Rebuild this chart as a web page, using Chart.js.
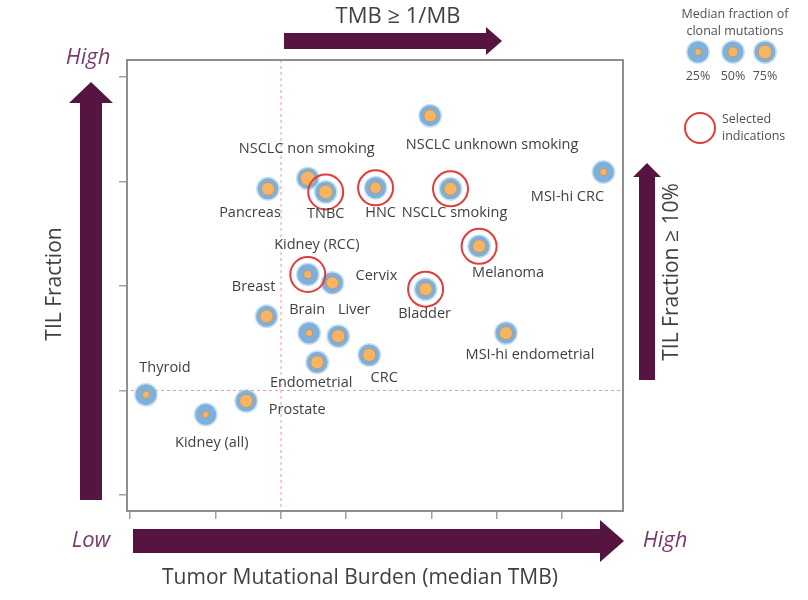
<!DOCTYPE html>
<html>
<head>
<meta charset="utf-8">
<script src="https://cdn.jsdelivr.net/npm/chart.js@4.4.1/dist/chart.umd.min.js"></script>
<style>
  html, body { margin: 0; padding: 0; background: #fff; }
  #wrap { width: 808px; height: 600px; }
</style>
</head>
<body>
<div id="wrap"><canvas id="chart"></canvas></div>
<script>
// indications, median TMB (mut/MB), TIL fraction (%), median clonal fraction
const names = ["NSCLC unknown smoking", "NSCLC non smoking", "TNBC", "Pancreas", "HNC", "NSCLC smoking",
  "MSI-hi CRC", "Melanoma", "Kidney (RCC)", "Cervix", "Bladder", "Breast", "Brain", "Liver",
  "MSI-hi endometrial", "CRC", "Endometrial", "Thyroid", "Kidney (all)", "Prostate"];
const tmb = [4.9, 1.33, 1.61, 0.87, 2.74, 6.09, 31.1, 8.26, 1.33, 1.73, 4.67, 0.857, 1.35, 1.84, 11.0, 2.56, 1.47, 0.237, 0.448, 0.69];
const til = [36.3, 30.3, 29.0, 29.3, 29.4, 29.3, 30.9, 23.8, 21.1, 20.3, 19.7, 17.1, 15.5, 15.2, 15.5, 13.4, 12.7, 9.6, 7.7, 9.0];
const clonal = [0.65, 0.8, 0.75, 0.7, 0.6, 0.7, 0.3, 0.7, 0.35, 0.65, 0.7, 0.7, 0.3, 0.7, 0.7, 0.7, 0.7, 0.3, 0.25, 0.7];
const selected = ["TNBC", "HNC", "NSCLC smoking", "Melanoma", "Kidney (RCC)", "Bladder"];
const xTicks = [0.2, 0.5, 1, 2, 5, 10, 20];
const yTicks = [0, 10, 20, 30, 40];
const legendClonal = [0.25, 0.5, 0.75];
const legendLabels = ["25%", "50%", "75%"];

// label offsets from point centre (px)
const labelOffsets = {
  "NSCLC unknown smoking": [62, 29], "NSCLC non smoking": [-1, -30], "TNBC": [0, 22], "Pancreas": [-18, 24],
  "HNC": [5, 25], "NSCLC smoking": [4, 24], "MSI-hi CRC": [-36, 25], "Melanoma": [29, 27],
  "Kidney (RCC)": [9, -30], "Cervix": [44, -7], "Bladder": [-1, 25], "Breast": [-13, -29],
  "Brain": [-2, -23], "Liver": [16, -26], "MSI-hi endometrial": [24, 22], "CRC": [15, 23],
  "Endometrial": [-6, 21], "Thyroid": [19, -27], "Kidney (all)": [6, 28], "Prostate": [51, 9]
};

const PURPLE = "#561541";
const TEXT = "#404040";
const FONT = "'Open Sans', 'Noto Sans', sans-serif";
const innerR = f => 1.5 + 7.2 * f;

const pts = names.map((n, i) => ({ x: tmb[i], y: til[i] }));
const selPts = names.map((n, i) => ({ x: tmb[i], y: til[i], sel: selected.includes(n) })).filter(p => p.sel);

function bubble(ctx, x, y, f) {
  ctx.beginPath(); ctx.arc(x, y, 12, 0, Math.PI * 2);
  ctx.fillStyle = "rgba(140,185,225,0.45)"; ctx.fill();
  ctx.beginPath(); ctx.arc(x, y, 10.5, 0, Math.PI * 2);
  ctx.fillStyle = "#7db1dc"; ctx.fill();
  ctx.beginPath(); ctx.arc(x, y, innerR(f), 0, Math.PI * 2);
  ctx.fillStyle = "#f6b566"; ctx.fill();
  ctx.strokeStyle = "#b8864a"; ctx.lineWidth = 0.6; ctx.stroke();
}

function hArrow(ctx, x0, x1, yc, half, headLen, headHalf) {
  ctx.beginPath();
  ctx.moveTo(x0, yc - half); ctx.lineTo(x1 - headLen, yc - half); ctx.lineTo(x1 - headLen, yc - headHalf);
  ctx.lineTo(x1, yc); ctx.lineTo(x1 - headLen, yc + headHalf); ctx.lineTo(x1 - headLen, yc + half);
  ctx.lineTo(x0, yc + half); ctx.closePath();
  ctx.fillStyle = PURPLE; ctx.fill();
}
function vArrow(ctx, y0, y1, xc, half, headLen, headHalf) {
  ctx.beginPath();
  ctx.moveTo(xc - half, y0); ctx.lineTo(xc - half, y1 + headLen); ctx.lineTo(xc - headHalf, y1 + headLen);
  ctx.lineTo(xc, y1); ctx.lineTo(xc + headHalf, y1 + headLen); ctx.lineTo(xc + half, y1 + headLen);
  ctx.lineTo(xc + half, y0); ctx.closePath();
  ctx.fillStyle = PURPLE; ctx.fill();
}

const decor = {
  id: "decor",
  beforeDatasetsDraw(chart) {
    const { ctx, chartArea: a, scales: { x, y } } = chart;
    ctx.save();
    ctx.strokeStyle = "#f19a8e"; ctx.lineWidth = 1; ctx.setLineDash([3, 3]);
    const x1 = x.getPixelForValue(1), y10 = y.getPixelForValue(10);
    ctx.beginPath(); ctx.moveTo(x1, a.top); ctx.lineTo(x1, a.bottom + 8); ctx.stroke();
    ctx.beginPath(); ctx.moveTo(a.left - 8, y10); ctx.lineTo(a.right, y10); ctx.stroke();
    ctx.restore();
  },
  afterDatasetsDraw(chart) {
    const { ctx, chartArea: a } = chart;
    ctx.save();
    // frame
    ctx.strokeStyle = "#8e8e8e"; ctx.lineWidth = 2;
    ctx.strokeRect(a.left, a.top, a.right - a.left, a.bottom - a.top);

    // bubbles
    const meta = chart.getDatasetMeta(0);
    meta.data.forEach((el, i) => bubble(ctx, el.x, el.y, clonal[i]));
    chart.getDatasetMeta(1).data.forEach(el => {
      ctx.beginPath(); ctx.arc(el.x, el.y, 17.5, 0, Math.PI * 2);
      ctx.strokeStyle = "#e23b3b"; ctx.lineWidth = 2; ctx.stroke();
    });

    // point labels
    ctx.font = `14.5px ${FONT}`; ctx.fillStyle = TEXT; ctx.textAlign = "center"; ctx.textBaseline = "middle";
    meta.data.forEach((el, i) => {
      const o = labelOffsets[names[i]];
      ctx.fillText(names[i], el.x + o[0], el.y + o[1]);
    });

    // arrows
    hArrow(ctx, 284, 502, 41, 8, 16, 14);
    hArrow(ctx, 133, 624, 541, 12, 24, 21);
    vArrow(ctx, 500, 82, 91, 11, 21, 22);
    vArrow(ctx, 380, 163, 647, 8, 14, 14);

    // arrow texts
    ctx.fillStyle = TEXT; ctx.font = `22px ${FONT}`;
    ctx.fillText("TMB \u2265 1/MB", 398, 17);
    ctx.font = `21px ${FONT}`;
    ctx.fillText("Tumor Mutational Burden (median TMB)", 360, 578);
    ctx.save(); ctx.translate(55, 284); ctx.rotate(-Math.PI / 2);
    ctx.fillText("TIL Fraction", 0, 0); ctx.restore();
    ctx.save(); ctx.translate(672, 272); ctx.rotate(-Math.PI / 2);
    ctx.font = `21px ${FONT}`; ctx.fillText("TIL Fraction \u2265 10%", 0, 0); ctx.restore();

    ctx.fillStyle = "#7a3a6c"; ctx.font = `italic 22px ${FONT}`;
    ctx.fillText("High", 88, 58);
    ctx.fillText("Low", 91, 541);
    ctx.fillText("High", 665, 541);

    // legend
    ctx.fillStyle = "#505050"; ctx.font = `12.5px ${FONT}`;
    ctx.fillText("Median fraction of", 735, 14);
    ctx.fillText("clonal mutations", 735, 31);
    const lx = [698, 733, 765];
    legendClonal.forEach((f, i) => bubble(ctx, lx[i], 52, f));
    ctx.fillStyle = "#505050"; ctx.font = `12.5px ${FONT}`;
    legendLabels.forEach((t, i) => ctx.fillText(t, lx[i], 76));
    ctx.beginPath(); ctx.arc(700, 128, 15, 0, Math.PI * 2);
    ctx.strokeStyle = "#e23b3b"; ctx.lineWidth = 2; ctx.stroke();
    ctx.textAlign = "left";
    ctx.fillText("Selected", 722, 119);
    ctx.fillText("indications", 722, 136);
    ctx.restore();
  }
};

new Chart(document.getElementById("chart"), {
  type: "scatter",
  data: {
    datasets: [
      { data: pts, pointRadius: 0, pointHoverRadius: 0 },
      { data: selPts, pointRadius: 0, pointHoverRadius: 0 }
    ]
  },
  options: {
    responsive: true,
    maintainAspectRatio: false,
    animation: false,
    events: [],
    layout: { padding: { left: 119, top: 60, right: 185, bottom: 81 } },
    plugins: { legend: { display: false }, tooltip: { enabled: false } },
    scales: {
      x: {
        type: "logarithmic", min: 0.1936, max: 38.3,
        afterBuildTicks: s => { s.ticks = xTicks.map(v => ({ value: v })); },
        ticks: { display: false },
        grid: { drawOnChartArea: false, drawTicks: true, tickLength: 8, color: "#a0a0a0", lineWidth: 1.5 },
        border: { display: false }
      },
      y: {
        type: "linear", min: -1.53, max: 41.63,
        afterBuildTicks: s => { s.ticks = yTicks.map(v => ({ value: v })); },
        ticks: { display: false },
        grid: { drawOnChartArea: false, drawTicks: true, tickLength: 8, color: "#a0a0a0", lineWidth: 1.5 },
        border: { display: false }
      }
    }
  },
  plugins: [decor]
});
</script>
</body>
</html>
